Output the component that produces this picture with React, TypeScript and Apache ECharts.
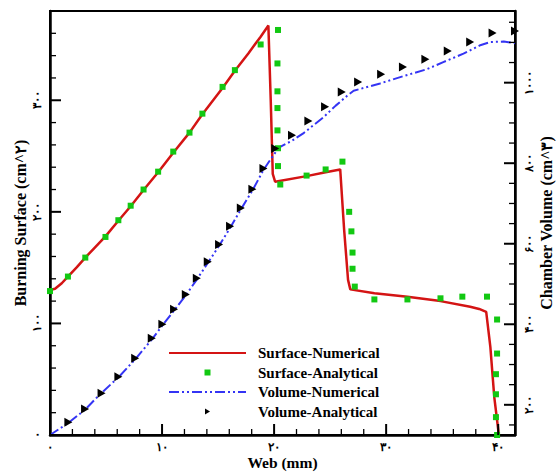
import React, { useEffect, useRef } from "react";
import * as echarts from "echarts";

// ---- data ----
const surfaceNumerical: [number, number][] = [
  [0, 130], [0.45, 131], [1.05, 136], [1.6, 142], [2.4, 150.5], [3.15, 159], [4.0, 168],
  [4.95, 178], [6.1, 192], [7.2, 205], [8.35, 219.5], [9.65, 235.5], [11.0, 253],
  [12.45, 271], [13.6, 287.5], [15.4, 311], [16.5, 326.5], [17.7, 342], [18.8, 357],
  [19.49, 367], [19.7, 300], [19.88, 234], [20.09, 227], [22.9, 232], [24.6, 235.5],
  [25.9, 238], [26.25, 184], [26.6, 139], [26.8, 130.5], [28.96, 127], [31.9, 124],
  [34.85, 120], [37.5, 115], [38.3, 113], [38.93, 110.4], [39.3, 79], [39.65, 34], [40.06, 0],
];

const surfaceAnalytical: [number, number][] = [
  [0, 129], [1.6, 142], [3.15, 159], [4.95, 177.5], [6.1, 192.5], [7.2, 205.5], [8.35, 220],
  [9.65, 236], [11.0, 254], [12.45, 271], [13.6, 288], [15.4, 312], [16.5, 327], [18.8, 350],
  [20.35, 363], [20.3, 333], [20.3, 308], [20.3, 293], [20.3, 273], [20.35, 257], [20.35, 241],
  [20.55, 224.5], [22.9, 232.5], [24.6, 238], [26.1, 245], [26.7, 200], [26.9, 182.5],
  [27.0, 163.5], [27.0, 149], [27.2, 133], [28.95, 121.5], [31.9, 121.5], [34.85, 122.5],
  [36.8, 124], [39.0, 124], [39.9, 103.5], [39.9, 73], [39.8, 54.5], [39.8, 36.5], [39.8, 16],
  [39.9, 0],
];

const volumeNumerical: [number, number][] = [
  [0, 125], [1.64, 155], [3.13, 188], [4.46, 226], [6.1, 268], [7.6, 313], [9.08, 362],
  [10.03, 397], [11.07, 434], [12.12, 472], [13.1, 511], [14.08, 552], [15.09, 595],
  [16.07, 639], [17.03, 685], [18.06, 732], [19.05, 783], [19.6, 806], [20.2, 830],
  [20.5, 840], [21.6, 856], [22.6, 874], [24.4, 914], [25.5, 943], [26.5, 967], [27.1, 980],
  [29.46, 998], [31.5, 1016], [33.6, 1033], [35.1, 1051], [36.9, 1072], [38.4, 1093],
  [39.3, 1101], [40.5, 1102], [41.5, 1098],
];

const volumeAnalytical: [number, number][] = [
  [1.64, 156.5], [3.13, 189.5], [4.6, 228.5], [6.1, 269.7], [7.6, 315.4], [9.08, 365],
  [10.03, 399.8], [11.07, 437], [12.12, 474.2], [13.1, 514], [14.08, 555], [15.09, 598.3],
  [16.07, 643.7], [17.03, 689], [18.06, 735.6], [19.05, 787], [20.1, 836.6], [21.6, 869.6],
  [23.06, 905], [24.55, 939.9], [26.04, 977], [27.5, 1001.9], [29.55, 1021], [31.5, 1039],
  [33.5, 1058], [35.5, 1078.8], [37.5, 1101], [39.5, 1123.5], [41.5, 1128.5],
];

const webMajorTicks = [0, 10, 20, 30, 40];
const webMinorTicks = [2, 4, 6, 8, 12, 14, 16, 18, 22, 24, 26, 28, 32, 34, 36, 38];
const surfaceMajorTicks = [0, 100, 200, 300];
const surfaceMinorTicks = [20, 40, 60, 80, 120, 140, 160, 180, 220, 240, 260, 280, 320, 340, 360];
const volumeMajorTicks = [200, 400, 600, 800, 1000];
const volumeMinorTicks = [150, 250, 300, 350, 450, 500, 550, 650, 700, 750, 850, 900, 950, 1050, 1100, 1150];

const seriesNames = ["Surface-Numerical", "Surface-Analytical", "Volume-Numerical", "Volume-Analytical"];
const axisTitles = { x: "Web (mm)", left: "Burning Surface (cm^\u06F2)", right: "Chamber Volume (cm^\u06F3)" };

const WEB_MAX = 41.5;
const SURF_MAX = 380;
const VOL_MIN = 125;
const VOL_MAX = 1178;

const FONT = "'Liberation Serif', 'DejaVu Serif', serif";
const toFa = (v: number | string) =>
  String(v).replace(/\d/g, (d) => "\u06F0\u06F1\u06F2\u06F3\u06F4\u06F5\u06F6\u06F7\u06F8\u06F9"[+d]);

// tick marks drawn through the axes' own scales (kind 1 = major, 0 = minor)
const tickItems = (major: number[], minor: number[]) => [
  ...major.map((v) => [v, 1]),
  ...minor.map((v) => [v, 0]),
];

export default function App() {
  const ref = useRef<HTMLDivElement>(null);
  useEffect(() => {
    document.body.style.margin = "0";
    const chart = echarts.init(ref.current!, null, { renderer: "svg" });
    const labelStyle = { color: "#000", fontSize: 12, fontWeight: "bold" as const, fontFamily: FONT };
    const nameStyle = { color: "#000", fontSize: 16, fontWeight: "bold" as const, fontFamily: FONT, lineHeight: 16 };
    const axisLine = { show: true, onZero: false, lineStyle: { color: "#000", width: 2.5 } };
    const tickLen = (kind: number) => (kind ? 11 : 6);
    const tickWidth = (kind: number) => (kind ? 2 : 1.3);

    const tickSeries = (
      yAxisIndex: number,
      items: number[][],
      side: "bottom" | "left" | "right",
    ) => ({
      type: "custom",
      xAxisIndex: 0,
      yAxisIndex,
      silent: true,
      clip: false,
      z: 5,
      data: items,
      renderItem: (_p: any, api: any) => {
        const v = api.value(0);
        const kind = api.value(1);
        const len = tickLen(kind);
        const style = { stroke: "#000", lineWidth: tickWidth(kind) };
        if (side === "bottom") {
          const [x, y] = api.coord([v, 0]);
          return { type: "line", shape: { x1: x, y1: y, x2: x, y2: y - len }, style };
        }
        if (side === "left") {
          const [x, y] = api.coord([0, v]);
          return { type: "line", shape: { x1: x, y1: y, x2: x + len, y2: y }, style };
        }
        const [x, y] = api.coord([WEB_MAX, v]);
        return { type: "line", shape: { x1: x, y1: y, x2: x - len, y2: y }, style };
      },
    });

    chart.setOption({
      animation: false,
      grid: {
        left: 50, right: 43, top: 11, bottom: 37,
        containLabel: false, outerBoundsMode: "none",
        show: true, borderColor: "#000", borderWidth: 2, backgroundColor: "transparent",
      },
      xAxis: {
        type: "value", min: 0, max: WEB_MAX, position: "bottom",
        axisLine,
        axisTick: { show: false },
        axisLabel: { ...labelStyle, customValues: webMajorTicks, formatter: (v: number) => toFa(v), margin: 6 },
        splitLine: { show: false },
        name: axisTitles.x, nameLocation: "middle", nameGap: 20, nameMoveOverlap: false,
        nameTextStyle: { ...nameStyle, fontSize: 15.5, lineHeight: 15.5 },
      },
      yAxis: [
        {
          type: "value", min: 0, max: SURF_MAX, position: "left",
          axisLine,
          axisTick: { show: false },
          axisLabel: { ...labelStyle, customValues: surfaceMajorTicks, formatter: (v: number) => toFa(v), rotate: 90, margin: 7 },
          splitLine: { show: false },
          name: axisTitles.left, nameLocation: "middle", nameGap: 22, nameRotate: 90, nameMoveOverlap: false,
          nameTextStyle: nameStyle,
        },
        {
          type: "value", min: VOL_MIN, max: VOL_MAX, position: "right",
          axisLine,
          axisTick: { show: false },
          axisLabel: { ...labelStyle, customValues: volumeMajorTicks, formatter: (v: number) => toFa(v), rotate: 90, margin: 8 },
          splitLine: { show: false },
          name: axisTitles.right, nameLocation: "middle", nameGap: 23, nameRotate: 90, nameMoveOverlap: false,
          nameTextStyle: nameStyle,
        },
      ],
      legend: {
        orient: "vertical", left: 168, top: 345, padding: 0,
        itemWidth: 77, itemHeight: 6, itemGap: 3.5,
        textStyle: { color: "#000", fontSize: 15, fontWeight: "bold", fontFamily: FONT, lineHeight: 16, padding: [0, 0, 0, 7] },
        data: [
          { name: seriesNames[0], itemStyle: { opacity: 0 } },
          { name: seriesNames[1], icon: "path://M0,0L10,0L10,10L0,10Z" },
          { name: seriesNames[2], itemStyle: { opacity: 0 } },
          { name: seriesNames[3], icon: "path://M0,0L10,6L0,12Z" },
        ],
      },
      series: [
        {
          name: seriesNames[0], type: "line", yAxisIndex: 0, data: surfaceNumerical,
          symbol: "none", lineStyle: { color: "#d41414", width: 2.5 }, itemStyle: { color: "#d41414" }, z: 2,
        },
        {
          name: seriesNames[2], type: "line", yAxisIndex: 1, data: volumeNumerical,
          symbol: "none", lineStyle: { color: "#3434f4", width: 2, type: [10, 3, 2, 3, 2, 3] }, itemStyle: { color: "#3434f4" }, z: 2,
        },
        {
          name: seriesNames[1], type: "scatter", yAxisIndex: 0, data: surfaceAnalytical,
          symbol: "rect", symbolSize: 6, itemStyle: { color: "#12c812", opacity: 1 }, z: 3,
        },
        {
          name: seriesNames[3], type: "scatter", yAxisIndex: 1, data: volumeAnalytical,
          symbol: "triangle", symbolRotate: -90, symbolSize: [9, 8], itemStyle: { color: "#000", opacity: 1 }, z: 3,
        },
        tickSeries(0, tickItems(webMajorTicks, webMinorTicks), "bottom"),
        tickSeries(0, tickItems(surfaceMajorTicks, surfaceMinorTicks), "left"),
        tickSeries(1, tickItems(volumeMajorTicks, volumeMinorTicks), "right"),
      ],
    });
    return () => chart.dispose();
  }, []);
  return <div ref={ref} style={{ width: 558, height: 472 }} />;
}
